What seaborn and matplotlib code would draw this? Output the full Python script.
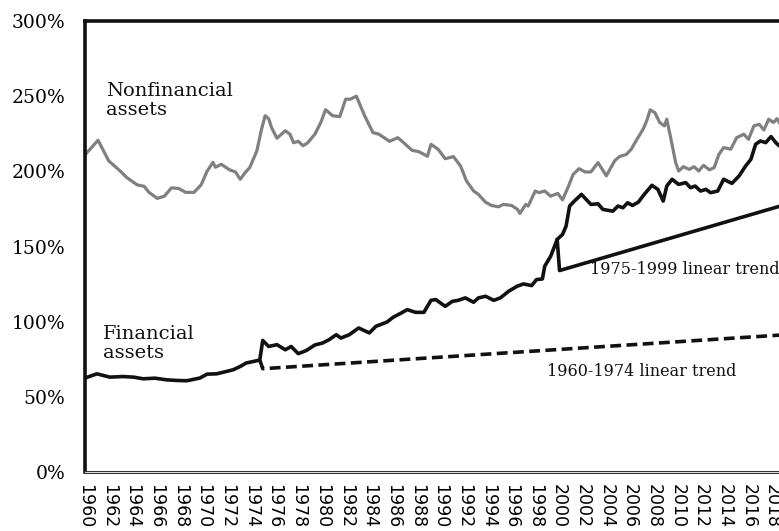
import matplotlib
matplotlib.use("Agg")
import matplotlib.pyplot as plt
import seaborn as sns
import pandas as pd

# values (% of GDP-like ratio)
nonfin_years = [1960.0, 1961.1, 1962.0, 1963.0, 1963.5, 1964.4, 1965.0, 1965.4, 1966.1, 1966.7,
                1967.3, 1967.9, 1968.5, 1969.2, 1969.8, 1970.3, 1970.8, 1971.0, 1971.5, 1972.2,
                1972.7, 1973.1, 1973.5, 1973.9, 1974.5, 1974.9, 1975.2, 1975.5, 1975.75, 1976.2,
                1976.9, 1977.3, 1977.6, 1978.0, 1978.4, 1978.8, 1979.4, 1979.9, 1980.3, 1980.9,
                1981.5, 1982.0, 1982.4, 1982.9, 1983.6, 1984.3, 1984.8, 1985.7, 1986.4, 1986.9,
                1987.6, 1988.2, 1988.9, 1989.2, 1989.8, 1990.4, 1991.1, 1991.7, 1992.2, 1992.8,
                1993.2, 1993.8, 1994.3, 1994.9, 1995.3, 1996.0, 1996.5, 1996.7, 1997.2, 1997.4,
                1998.0, 1998.3, 1998.8, 1999.3, 1999.9, 2000.3, 2000.8, 2001.2, 2001.7, 2002.2,
                2002.7, 2003.3, 2004.0, 2004.7, 2005.1, 2005.7, 2006.1, 2006.5, 2007.1, 2007.4,
                2007.7, 2008.1, 2008.5, 2008.9, 2009.1, 2009.4, 2009.85, 2010.1, 2010.5, 2011.0,
                2011.4, 2011.8, 2012.2, 2012.7, 2013.1, 2013.5, 2013.9, 2014.5, 2015.0, 2015.6,
                2016.0, 2016.45, 2016.9, 2017.3, 2017.7, 2018.1, 2018.4, 2018.7]
nonfin_vals = [211, 220.7, 207, 200, 196, 191, 190, 186, 182, 183.5,
               189, 188.6, 186, 186, 191, 200, 206, 202.7, 204.7, 201,
               199.6, 194.7, 199, 202.5, 213.5, 228, 237, 235, 229, 222,
               227, 224.7, 219, 220, 217, 219, 224.7, 232.5, 241, 237,
               236.4, 248, 248, 250, 237, 225.8, 224.7, 220, 222.4, 219,
               214, 213, 210, 218, 214.7, 208.4, 209.8, 203.5, 193.5, 186.9,
               184.7, 179.5, 177.3, 176.4, 178, 177.3, 174.7, 172, 178, 176.9,
               186.9, 185.8, 186.9, 183.5, 185.3, 181, 190, 198, 201.8, 199.6,
               199.6, 205.8, 197, 207, 209.8, 211.3, 214.7, 220.2, 228, 233.5,
               240.9, 239, 232.5, 230.2, 234.7, 223.5, 205.8, 200.2, 203.1, 201.3,
               203.1, 200.2, 204, 201, 202.5, 211.3, 215.8, 214.7, 222.4, 224.7,
               221.3, 230.2, 231.3, 227.5, 234.7, 232.5, 235, 231]

fin_years = [1960.0, 1961.0, 1962.1, 1963.2, 1964.1, 1964.9, 1965.9, 1966.9, 1967.7, 1968.6,
             1969.7, 1970.3, 1971.1, 1971.95, 1972.5, 1973.1, 1973.6, 1974.2, 1974.75, 1975.0,
             1975.5, 1976.2, 1976.9, 1977.4, 1978.0, 1978.7, 1979.4, 1980.05, 1980.6, 1981.2,
             1981.6, 1982.3, 1983.1, 1984.0, 1984.55, 1985.5, 1986.0, 1986.7, 1987.2, 1987.9,
             1988.6, 1989.2, 1989.6, 1990.4, 1991.0, 1991.5, 1992.1, 1992.8, 1993.2, 1993.8,
             1994.5, 1995.05, 1995.75, 1996.45, 1997.0, 1997.7, 1998.1, 1998.6, 1998.8, 1999.3,
             1999.85, 2000.3, 2000.6, 2000.9, 2001.3, 2001.9, 2002.3, 2002.7, 2003.3, 2003.7,
             2004.55, 2004.98, 2005.4, 2005.8, 2006.2, 2006.7, 2007.2, 2007.85, 2008.35, 2008.8,
             2009.1, 2009.55, 2010.1, 2010.7, 2011.1, 2011.5, 2011.95, 2012.4, 2012.8, 2013.4,
             2013.9, 2014.6, 2015.2, 2015.75, 2016.2, 2016.6, 2017.0, 2017.45, 2017.9, 2018.3,
             2018.6]
fin_vals = [62.5, 65.3, 63.1, 63.5, 63.1, 62, 62.4, 61.3, 60.9, 60.7,
            62.5, 65.1, 65.3, 66.9, 68, 70.2, 72.5, 73.5, 74.5, 87.5,
            83.5, 84.7, 81.3, 83.5, 78.7, 80.9, 84.5, 85.8, 88, 91.3,
            89.1, 91.3, 95.8, 92.5, 96.9, 99.8, 102.9, 105.8, 108, 106.2,
            106.2, 114.2, 114.7, 110.2, 113.5, 114.2, 115.8, 112.9, 115.8, 116.9,
            114.2, 115.8, 120.2, 123.5, 125.1, 124, 128, 128.4, 136.9, 143.5,
            154.7, 158, 163.5, 176.9, 180.2, 184.7, 181.3, 178, 178.4, 174.7,
            173.5, 176.9, 175.8, 179.1, 177.3, 179.5, 184.7, 190.7, 188, 180.2,
            190.2, 194.7, 191.3, 192.5, 189.1, 190.2, 186.9, 188, 185.8, 186.9,
            194.7, 192, 196.9, 203.5, 208, 218, 220.2, 219.1, 223.1, 219.1,
            216.9]

# linear trends (start at last actual point, then the trend line)
trend60_years = [1974.75, 1975.0, 2019.5]
trend60_vals = [74.5, 68.7, 91.5]
trend75_years = [1999.85, 2000.05, 2019.5]
trend75_vals = [154.7, 134.0, 178.8]

year_ticks = list(range(1960, 2019, 2))
pct_ticks = [0, 50, 100, 150, 200, 250, 300]

sns.set_theme(style="white")
plt.rcParams["font.family"] = ["DejaVu Serif"]

fig = plt.figure(figsize=(7.79, 5.31), dpi=100)
ax = fig.add_axes([85 / 779, 59 / 531, 705 / 779, 451 / 531])

df_nf = pd.DataFrame({"year": nonfin_years, "val": nonfin_vals})
df_f = pd.DataFrame({"year": fin_years, "val": fin_vals})
df_t60 = pd.DataFrame({"year": trend60_years, "val": trend60_vals})
df_t75 = pd.DataFrame({"year": trend75_years, "val": trend75_vals})

sns.lineplot(data=df_nf, x="year", y="val", ax=ax, color="#808080", lw=2.3, estimator=None)
sns.lineplot(data=df_f, x="year", y="val", ax=ax, color="#111111", lw=2.6, estimator=None)
sns.lineplot(data=df_t60, x="year", y="val", ax=ax, color="#111111", lw=2.6, estimator=None,
             linestyle=(0, (3, 1.5)))
sns.lineplot(data=df_t75, x="year", y="val", ax=ax, color="#111111", lw=2.6, estimator=None)

ax.set_xlim(1960, 2019.5)
ax.set_ylim(0, 300)
ax.set_xlabel("")
ax.set_ylabel("")

ax.set_yticks(pct_ticks)
ax.set_yticklabels([f"{v}%" for v in pct_ticks], fontsize=13.5, family="DejaVu Serif")
ax.set_xticks(year_ticks)
ax.set_xticklabels([str(y) for y in year_ticks], rotation=270, fontsize=12.5,
                   family="DejaVu Sans", va="top", ha="center")
ax.tick_params(axis="y", length=0, pad=14, colors="black")
ax.tick_params(axis="x", length=0, pad=9, colors="black")

for side in ["left", "top"]:
    ax.spines[side].set_color("#111111")
    ax.spines[side].set_linewidth(2.6)
ax.spines["right"].set_visible(False)
ax.spines["bottom"].set_color("#333333")
ax.spines["bottom"].set_linewidth(2.2)
ax.axhline(0, color="#dddddd", lw=0.7, clip_on=False, zorder=5)

ax.text(1961.8, 247, "Nonfinancial\nassets", fontsize=14, ha="left", va="center",
        linespacing=1.1, color="#111111")
ax.text(1961.5, 85.5, "Financial\nassets", fontsize=14, ha="left", va="center",
        linespacing=1.1, color="#111111")
ax.text(2002.6, 134.5, "1975-1999 linear trend", fontsize=11.5, ha="left", va="center",
        color="#111111")
ax.text(1999.0, 67, "1960-1974 linear trend", fontsize=11.5, ha="left", va="center",
        color="#111111")

fig.savefig("out.png", dpi=100)
